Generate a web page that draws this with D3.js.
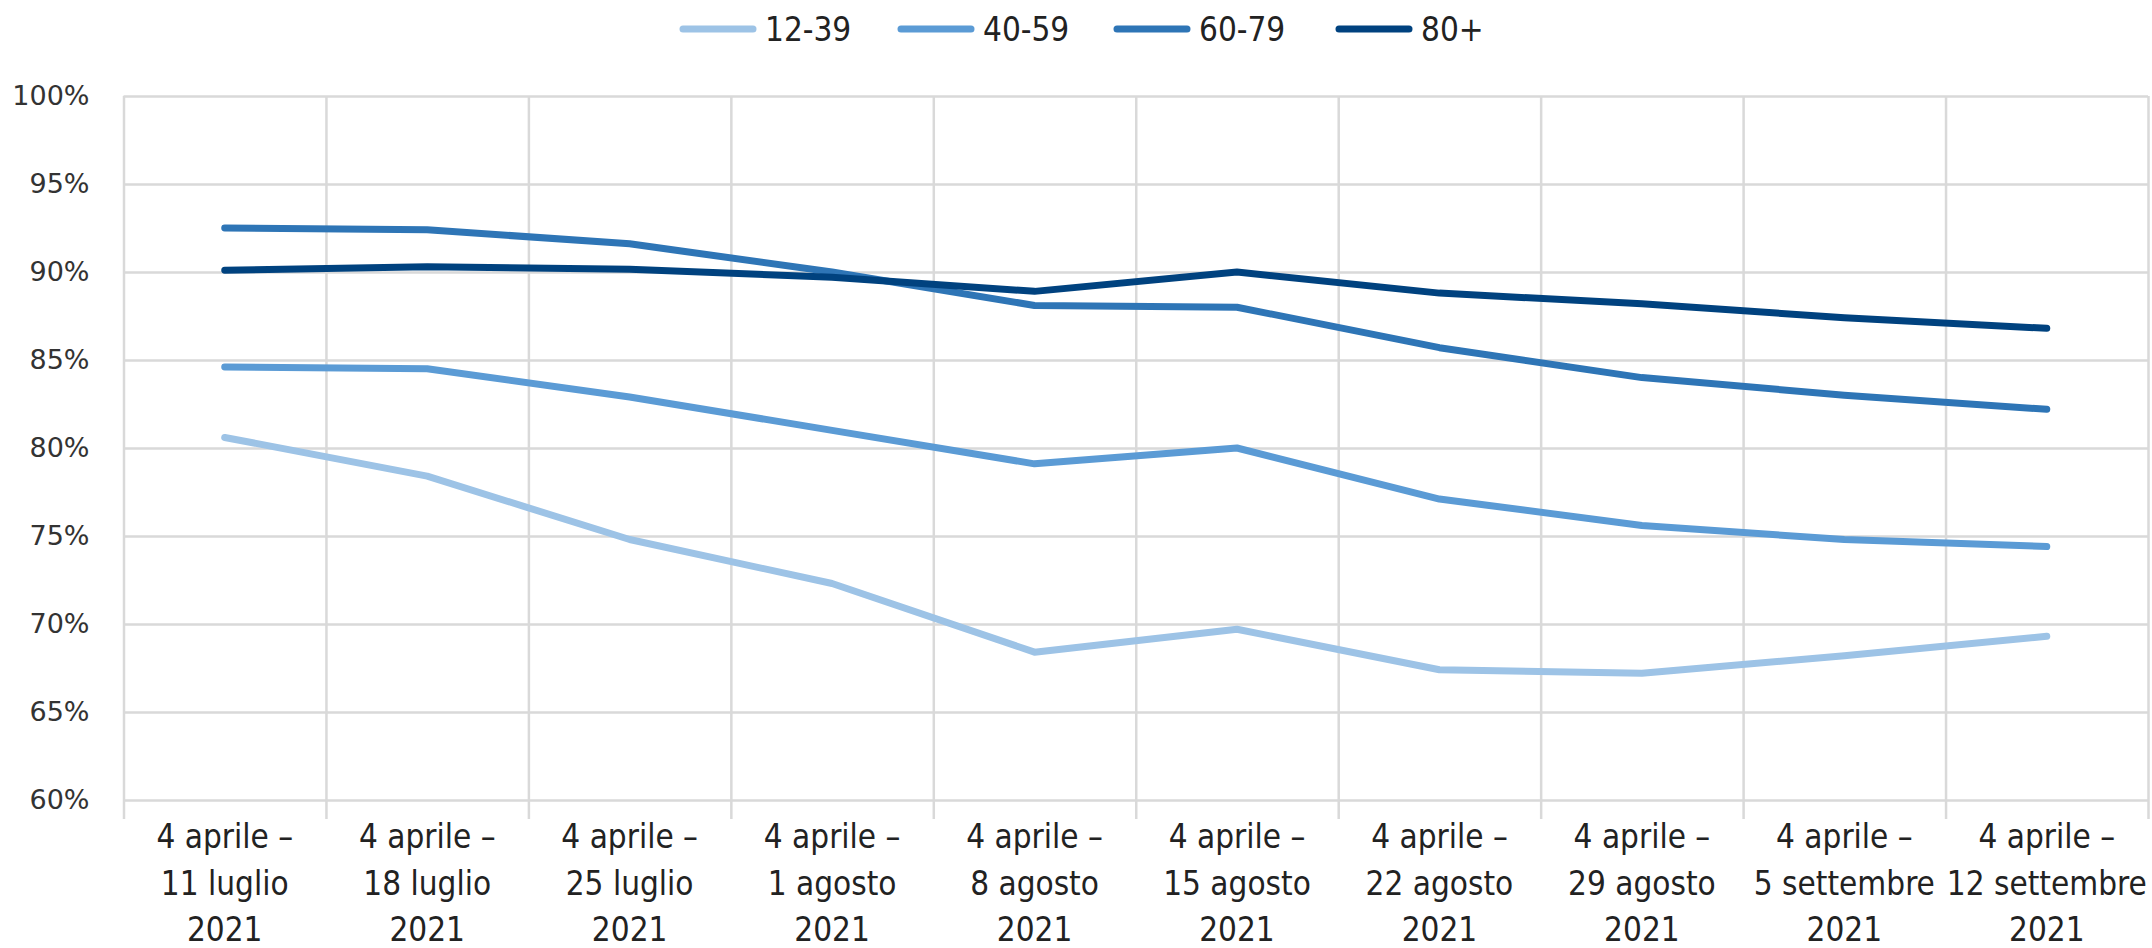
<!DOCTYPE html>
<html>
<head>
<meta charset="utf-8">
<script src="https://cdn.jsdelivr.net/npm/d3@7"></script>
<style>
  html, body { margin: 0; padding: 0; background: #ffffff; }
  .d3ChartGrid line { stroke: #d9d9d9; stroke-width: 2.5; }
  .d3LeftAxis text { font-family: "DejaVu Sans", Verdana, sans-serif; font-size: 27px; fill: #333333; }
  .d3BottomAxis text, .d3Legend text { font-family: "Liberation Sans Narrow", "Arial Narrow", "DejaVu Sans Condensed", sans-serif; font-size: 33px; fill: #222222; }
  .d3SeriesLine { fill: none; stroke-width: 7; stroke-linecap: round; stroke-linejoin: round; }
</style>
</head>
<body>
<div id="line_chart"></div>
<script>
// categories (one line per row of the tick label)
var catLine1 = ["4 aprile –","4 aprile –","4 aprile –","4 aprile –","4 aprile –","4 aprile –","4 aprile –","4 aprile –","4 aprile –","4 aprile –"];
var catLine2 = ["11 luglio","18 luglio","25 luglio","1 agosto","8 agosto","15 agosto","22 agosto","29 agosto","5 settembre","12 settembre"];
var catLine3 = ["2021","2021","2021","2021","2021","2021","2021","2021","2021","2021"];

var seriesNames = ["12-39","40-59","60-79","80+"];
var val1239 = [80.6, 78.4, 74.8, 72.3, 68.4, 69.7, 67.4, 67.2, 68.2, 69.3];
var val4059 = [84.6, 84.5, 82.9, 81.0, 79.1, 80.0, 77.1, 75.6, 74.8, 74.4];
var val6079 = [92.5, 92.4, 91.6, 90.0, 88.1, 88.0, 85.7, 84.0, 83.0, 82.2];
var val80   = [90.1, 90.3, 90.15, 89.7, 88.9, 90.0, 88.8, 88.2, 87.4, 86.8];
var seriesColors = ["#9dc3e6","#5b9bd5","#2e75b6","#00427f"];

var yTicks = [60, 65, 70, 75, 80, 85, 90, 95, 100];

(function () {
  'use strict'
  d3LineChart("line_chart");
})()

function d3LineChart(divIdStr){
  var W = 2152, H = 948;
  var margin = {top: 96, right: 4, bottom: 148, left: 123.5};
  var width = W - margin.left - margin.right;
  var height = H - margin.top - margin.bottom;

  var categories = catLine2.map(function(d, i){ return i; });
  var seriesData = [val1239, val4059, val6079, val80];

  var x = d3.scaleBand().domain(categories).range([0, width]).padding(0);
  var xEdge = d3.scaleLinear().domain([0, categories.length]).range([0, width]);
  var y = d3.scaleLinear().domain([60, 100]).range([height, 0]);

  var svg = d3.select("#"+divIdStr).append("svg")
      .attr("width", W)
      .attr("height", H)
      .append("g")
      .attr("transform", "translate(" + margin.left + "," + margin.top + ")");

  // horizontal gridlines + y labels
  svg.append("g")
      .attr("class", "d3ChartGrid d3LeftAxis")
      .call(d3.axisLeft(y).tickValues(yTicks).tickSize(-width).tickPadding(34)
        .tickFormat(function(d){ return d + "%"; }));

  // vertical gridlines between categories
  svg.append("g")
      .attr("class", "d3ChartGrid")
      .attr("transform", "translate(0," + height + ")")
      .call(d3.axisBottom(xEdge).ticks(categories.length).tickSize(-height).tickFormat(""));

  // small tick marks below the axis
  svg.append("g")
      .attr("class", "d3ChartGrid")
      .attr("transform", "translate(0," + height + ")")
      .call(d3.axisBottom(xEdge).ticks(categories.length).tickSize(19).tickFormat(""));

  // category labels, three lines each
  var xAxisG = svg.append("g")
      .attr("class", "d3BottomAxis")
      .attr("transform", "translate(0," + height + ")")
      .call(d3.axisBottom(x).tickSize(0).tickFormat(""));
  xAxisG.selectAll(".tick").each(function(d){
    var t = d3.select(this).append("text").attr("text-anchor", "middle");
    [catLine1[d], catLine2[d], catLine3[d]].forEach(function(s, k){
      t.append("tspan").attr("x", 0).attr("y", 48 + k * 46.6).text(s);
    });
  });

  d3.select("#"+divIdStr).selectAll(".domain").remove();

  var line = d3.line()
      .x(function(d, i){ return x(i) + x.bandwidth() / 2; })
      .y(function(d){ return y(d); });

  svg.selectAll(".d3SeriesLine")
      .data(seriesData)
      .enter().append("path")
      .attr("class", "d3SeriesLine")
      .attr("stroke", function(d, i){ return seriesColors[i]; })
      .attr("d", line);

  // legend
  var legendX = [683, 901, 1117, 1339];
  var legend = d3.select("#"+divIdStr).select("svg").append("g")
      .attr("class", "d3Legend")
      .selectAll("g")
      .data(seriesNames)
      .enter().append("g")
      .attr("transform", function(d, i){ return "translate(" + legendX[i] + ",29)"; });
  legend.append("line")
      .attr("x1", 0).attr("x2", 70).attr("y1", 0).attr("y2", 0)
      .attr("stroke", function(d, i){ return seriesColors[i]; })
      .attr("stroke-width", 7)
      .attr("stroke-linecap", "round");
  legend.append("text")
      .attr("x", 82)
      .attr("y", 12)
      .text(function(d){ return d; });
}
</script>
</body>
</html>
